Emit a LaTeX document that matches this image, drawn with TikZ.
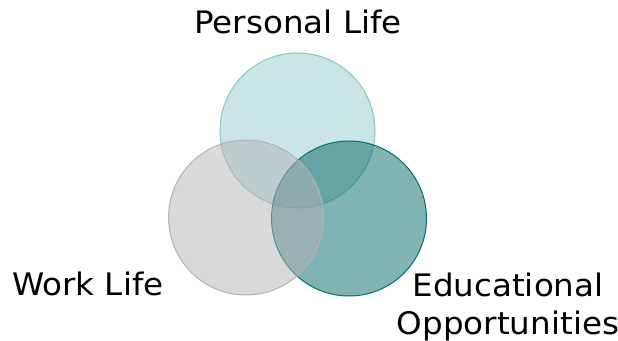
\documentclass[tikz,border=0pt]{standalone}
\usepackage{fontspec}
\setmainfont[FakeStretch=1.05]{DejaVu Sans}
\definecolor{personalfill}{RGB}{149,203,203}
\definecolor{personalline}{RGB}{140,198,194}
\definecolor{workfill}{RGB}{179,179,179}
\definecolor{workline}{RGB}{180,180,180}
\definecolor{edufill}{RGB}{1,103,99}
\definecolor{eduline}{RGB}{0,112,108}
\begin{document}
\begin{tikzpicture}[x=1pt,y=-1pt,font=\fontsize{31}{38}\selectfont]
	\tikzset{venn/.style={circle,minimum size=155pt,inner sep=0pt,
			fill opacity=0.5,draw opacity=1,line width=1pt},
		label text/.style={inner sep=0pt,text=black}}
	\useasboundingbox (0,0) rectangle (618,340);
	% Kreise: oben, rechts, links
	\foreach \n/\x/\y in {personal/297.5/130.5,edu/349/218.5,work/246/217.5}{
		\node[venn,fill=\n fill,draw=\n line] (\n) at (\x,\y) {};}
	\node[label text,anchor=base] (personallabel) at (298,33) {Personal Life};
	\node[label text,anchor=base west] (worklabel) at (12,295) {Work Life};
	\node[label text,anchor=base,align=center] (edulabel) at (508,334) {Educational\\Opportunities};
\end{tikzpicture}
\end{document}
